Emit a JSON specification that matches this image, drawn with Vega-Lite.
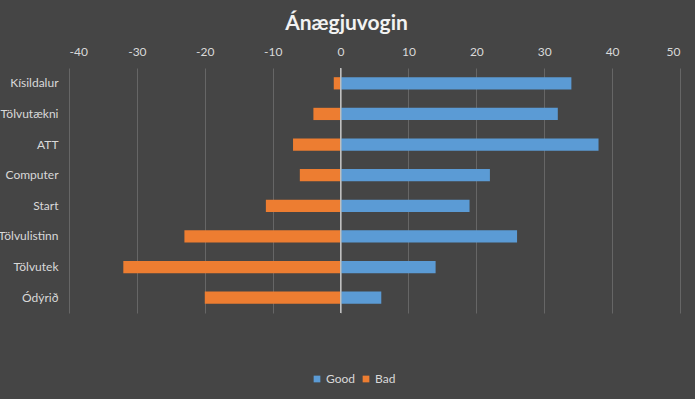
{
  "$schema": "https://vega.github.io/schema/vega-lite/v6.json",
  "width": 611,
  "height": 245,
  "autosize": {"type": "none"},
  "padding": {"left": 69, "top": 68, "right": 15, "bottom": 86},
  "background": "#454545",
  "title": {
    "text": "Ánægjuvogin",
    "fontSize": 21,
    "fontWeight": "bold",
    "color": "#f2f2f2",
    "font": "Lato",
    "anchor": "middle",
    "frame": "group",
    "dx": -28,
    "offset": 11
  },
  "config": {
    "view": {"stroke": null},
    "font": "Lato"
  },
  "data": {
    "values": [
      {"store": "Kísildalur", "series": "Good", "value": 34},
      {"store": "Kísildalur", "series": "Bad", "value": -1},
      {"store": "Tölvutækni", "series": "Good", "value": 32},
      {"store": "Tölvutækni", "series": "Bad", "value": -4},
      {"store": "ATT", "series": "Good", "value": 38},
      {"store": "ATT", "series": "Bad", "value": -7},
      {"store": "Computer", "series": "Good", "value": 22},
      {"store": "Computer", "series": "Bad", "value": -6},
      {"store": "Start", "series": "Good", "value": 19},
      {"store": "Start", "series": "Bad", "value": -11},
      {"store": "Tölvulistinn", "series": "Good", "value": 26},
      {"store": "Tölvulistinn", "series": "Bad", "value": -23},
      {"store": "Tölvutek", "series": "Good", "value": 14},
      {"store": "Tölvutek", "series": "Bad", "value": -32},
      {"store": "Ódýrið", "series": "Good", "value": 6},
      {"store": "Ódýrið", "series": "Bad", "value": -20}
    ]
  },
  "layer": [
    {
      "mark": {"type": "bar"},
      "encoding": {
        "y": {
          "field": "store",
          "type": "nominal",
          "sort": null,
          "scale": {"paddingInner": 0.6, "paddingOuter": 0.3},
          "axis": {
            "title": null,
            "domain": false,
            "ticks": false,
            "labelColor": "#d9d9d9",
            "labelFontSize": 12,
            "labelPadding": 11
          }
        },
        "x": {
          "field": "value",
          "type": "quantitative",
          "stack": null,
          "scale": {"domain": [-40, 50], "nice": false},
          "axis": {
            "orient": "top",
            "title": null,
            "values": [-40, -30, -20, -10, 0, 10, 20, 30, 40, 50],
            "labelExpr": "replace(datum.label, '−', '-')",
            "domain": false,
            "ticks": false,
            "labelColor": "#d9d9d9",
            "labelFontSize": 12,
            "labelPadding": 10,
            "gridColor": "#666666",
            "gridWidth": 1
          }
        },
        "color": {
          "field": "series",
          "type": "nominal",
          "scale": {"domain": ["Good", "Bad"], "range": ["#5B9BD5", "#ED7D31"]},
          "legend": {
            "orient": "none",
            "legendX": 242,
            "legendY": 305,
            "direction": "horizontal",
            "title": null,
            "symbolType": "square",
            "symbolSize": 45,
            "symbolStrokeWidth": 0,
            "labelColor": "#d9d9d9",
            "labelFontSize": 12,
            "labelOffset": 3,
            "columnPadding": 4
          }
        }
      }
    },
    {
      "mark": {"type": "rule", "color": "#bfbfbf", "strokeWidth": 1},
      "encoding": {"x": {"datum": 0}}
    }
  ]
}
